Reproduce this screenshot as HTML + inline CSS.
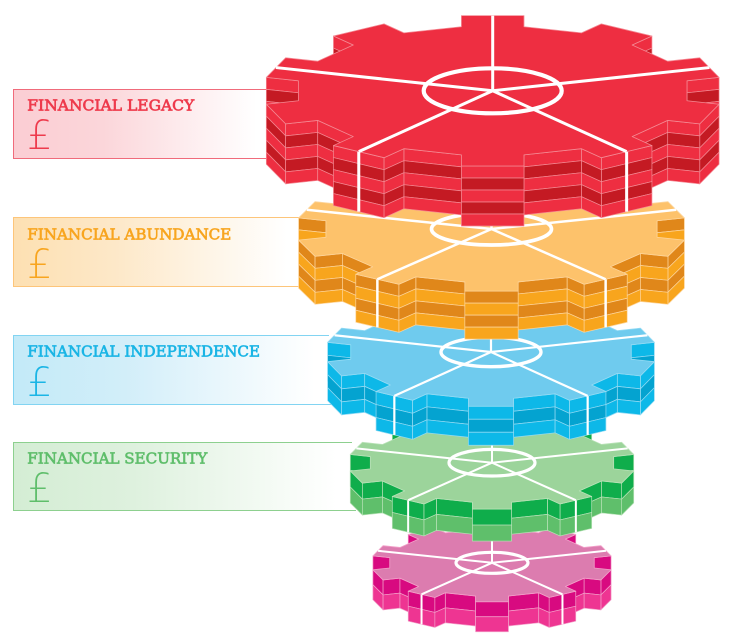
<!DOCTYPE html>
<html><head><meta charset="utf-8">
<style>
html,body{margin:0;padding:0;background:#fff;width:736px;height:644px;overflow:hidden;}
svg{display:block;}
.lbl{font-family:"DejaVu Serif","Liberation Serif",serif;font-size:15px;}
.pd{font-family:"DejaVu Sans","Liberation Sans",sans-serif;font-size:40px;font-weight:200;}
</style></head><body>
<svg id="s" width="736" height="644" viewBox="0 0 736 644" xmlns="http://www.w3.org/2000/svg">
<defs>
<linearGradient id="g1" x1="0" x2="1" y1="0" y2="0"><stop offset="0" stop-color="#fbcdd3"/><stop offset="0.35" stop-color="#fbd6da"/><stop offset="0.95" stop-color="#ffffff"/></linearGradient>
<linearGradient id="g2" x1="0" x2="1" y1="0" y2="0"><stop offset="0" stop-color="#fde0b2"/><stop offset="0.35" stop-color="#fde8c8"/><stop offset="0.95" stop-color="#ffffff"/></linearGradient>
<linearGradient id="g3" x1="0" x2="1" y1="0" y2="0"><stop offset="0" stop-color="#c3eaf8"/><stop offset="0.35" stop-color="#d2eef9"/><stop offset="0.95" stop-color="#ffffff"/></linearGradient>
<linearGradient id="g4" x1="0" x2="1" y1="0" y2="0"><stop offset="0" stop-color="#d4edd4"/><stop offset="0.35" stop-color="#def1de"/><stop offset="0.95" stop-color="#ffffff"/></linearGradient>
</defs>

<rect x="13.5" y="89.5" width="256" height="69" fill="url(#g1)"/>
<path d="M276 89.5 H13.5 V158.5 H280" fill="none" stroke="#f06b7b" stroke-width="1"/>
<text class="lbl" x="27.3" y="110.3" fill="#ee3a4c" stroke="#ee3a4c" stroke-width="0.65" textLength="167" lengthAdjust="spacingAndGlyphs">FINANCIAL LEGACY</text>
<text class="pd" x="27" y="149" fill="#ee3a4c">£</text>

<rect x="13.5" y="217.5" width="288" height="69" fill="url(#g2)"/>
<path d="M300 217.5 H13.5 V286.5 H306" fill="none" stroke="#fdc57a" stroke-width="1"/>
<text class="lbl" x="27.3" y="239.3" fill="#f8a51f" stroke="#f8a51f" stroke-width="0.65" textLength="204" lengthAdjust="spacingAndGlyphs">FINANCIAL ABUNDANCE</text>
<text class="pd" x="27" y="278" fill="#f8a51f">£</text>

<rect x="13.5" y="335.5" width="317" height="69" fill="url(#g3)"/>
<path d="M329 335.5 H13.5 V404.5 H334" fill="none" stroke="#82d4f2" stroke-width="1"/>
<text class="lbl" x="27.3" y="356.3" fill="#1ab5e5" stroke="#1ab5e5" stroke-width="0.65" textLength="232.7" lengthAdjust="spacingAndGlyphs">FINANCIAL INDEPENDENCE</text>
<text class="pd" x="27" y="396" fill="#1ab5e5">£</text>

<rect x="13.5" y="442.5" width="340" height="68" fill="url(#g4)"/>
<path d="M352 442.5 H13.5 V510.5 H356" fill="none" stroke="#8dd08f" stroke-width="1"/>
<text class="lbl" x="27.3" y="463.3" fill="#5fbe6b" stroke="#5fbe6b" stroke-width="0.65" textLength="180" lengthAdjust="spacingAndGlyphs">FINANCIAL SECURITY</text>
<text class="pd" x="27" y="502" fill="#5fbe6b">£</text>

<g id="gears"></g>
</svg>
<script>
(function(){
const NS="http://www.w3.org/2000/svg";
const G=document.getElementById('gears');
function mk(t,a,p){const e=document.createElementNS(NS,t);for(const k in a)e.setAttribute(k,a[k]);(p||G).appendChild(e);return e;}
function f(p){return p[0].toFixed(2)+','+p[1].toFixed(2);}
function gear(o){
  const g=mk('g',{});
  const cx=o.cx,cy=o.cy,R=o.R,k=o.k,h=o.h,seq=o.seq;
  const r=0.855*R,w=0.136*R,dr=Math.asin(w/r),dR=Math.asin(w/R);
  const P=(a,rho)=>[cx+rho*Math.cos(a),cy-rho*Math.sin(a)*k];
  const pts=[];
  for(let i=0;i<10;i++){
    const a=(90+36*i)*Math.PI/180;
    pts.push(P(a-dr,r),P(a-dR,R),P(a+dR,R),P(a+dr,r));
  }
  const faces=[];
  for(let i=0;i<pts.length;i++){
    const A=pts[i],B=pts[(i+1)%pts.length];
    if(B[0]-A[0]>0.01)faces.push([A,B,(A[1]+B[1])/2]);
  }
  faces.sort((p,q)=>p[2]-q[2]);
  const bh=h/seq.length;
  for(const fc of faces){
    const A=fc[0],B=fc[1];
    for(let j=0;j<seq.length;j++){
      const a=j*bh,b=(j+1)*bh;
      mk('polygon',{points:[[A[0],A[1]+a],[B[0],B[1]+a],[B[0],B[1]+b],[A[0],A[1]+b]].map(f).join(' '),
        fill:seq[j]==='L'?o.L:o.D,stroke:o.line,'stroke-width':0.7,'stroke-linejoin':'round'},g);
    }
  }
  [234,306].forEach(d=>{
    const a=d*Math.PI/180;const p=P(a,R*Math.cos(dR));
    mk('line',{x1:p[0],y1:p[1],x2:p[0],y2:p[1]+h,stroke:'#fff','stroke-width':o.sw},g);
  });
  mk('polygon',{points:pts.map(f).join(' '),fill:o.top,stroke:o.line,'stroke-width':0.8,'stroke-linejoin':'round'},g);
  [90,162,234,306,18].forEach(d=>{
    const a=d*Math.PI/180;const p=P(a,R*Math.cos(dR));
    mk('line',{x1:cx,y1:cy,x2:p[0],y2:p[1],stroke:'#fff','stroke-width':o.sw},g);
  });
  mk('ellipse',{cx:o.hx||cx,cy:o.hy||cy,rx:o.hrx,ry:o.hry,fill:'none',stroke:'#fff','stroke-width':o.sw+1.2},g);
}
gear({cx:492,cy:562.8,R:121,k:0.325,h:30,seq:'DL',top:'#dc7caf',L:'#ee3592',D:'#d80a80',line:'#f3a0c9',hrx:36,hry:10.5,sw:2});
gear({cx:492,cy:462.7,R:144,k:0.325,h:32,seq:'DL',top:'#9cd49b',L:'#5fbf6b',D:'#0fad4b',line:'#b8e2b7',hrx:43,hry:13.3,sw:2});
gear({cx:491,cy:352,R:166,k:0.33,h:39,seq:'LDL',top:'#6fcbee',L:'#0db8e8',D:'#04a3d0',line:'#94dbf4',hrx:50,hry:14.7,sw:2.2});
gear({cx:491.5,cy:229,R:196,k:0.32,h:48,seq:'DLDL',top:'#fdc26b',L:'#f8a51d',D:'#e0871a',line:'#fdd59c',hrx:60,hry:16,sw:2.5});
gear({cx:492.7,cy:90.8,R:230,k:0.33,h:60,seq:'LDLDL',top:'#ee2e41',L:'#ee2e41',D:'#c41a23',line:'#f48a94',hrx:69,hry:22.5,sw:3});
})();
</script>
</body></html>
